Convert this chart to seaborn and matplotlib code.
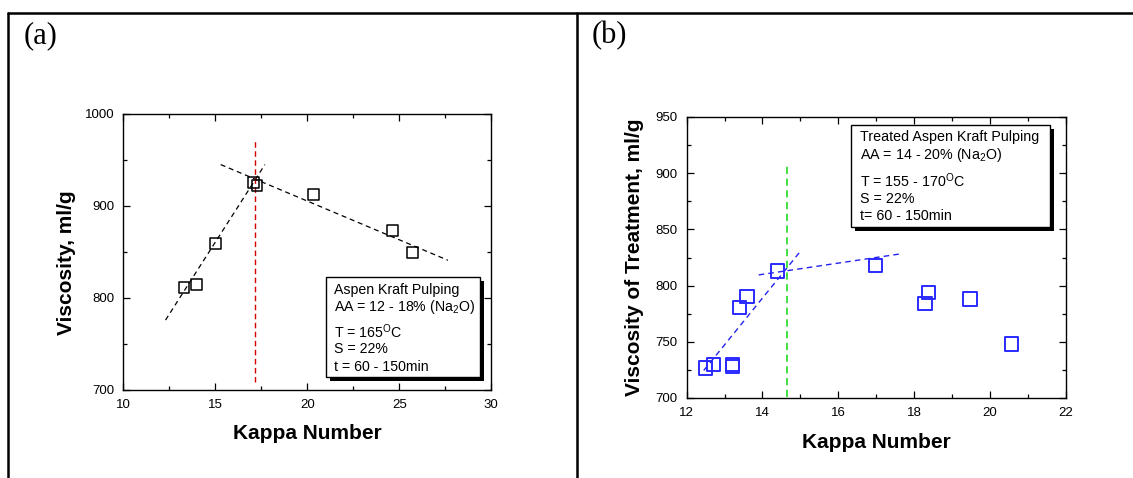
import matplotlib
matplotlib.use("Agg")
import matplotlib.pyplot as plt
import seaborn as sns
import pandas as pd
from matplotlib.patches import Rectangle
from matplotlib.lines import Line2D
from matplotlib.ticker import MultipleLocator

# ---------------- data ----------------
# panel (a): Aspen kraft pulping
kappa_a = [13.3, 14.0, 15.0, 17.07, 17.27, 20.35, 24.65, 25.72]
visc_a = [811.5, 815, 859, 925.5, 922.5, 912.5, 873, 849.5]
fit1_a_x = [12.3, 17.7]
fit1_a_y = [776, 945]
fit2_a_x = [15.3, 27.65]
fit2_a_y = [945, 841]
vline_a_x = [17.17, 17.17]
vline_a_y = [709, 972]

# panel (b): treated aspen kraft pulping
kappa_b = [12.5, 12.7, 13.2, 13.2, 13.4, 13.59, 14.39, 16.99, 18.29, 18.39, 19.48, 20.58]
visc_b = [726.7, 730, 730, 728, 780.5, 790, 813, 818, 784, 794, 788, 748]
fit1_b_x = [12.45, 14.99]
fit1_b_y = [724.5, 830]
fit2_b_x = [13.9, 17.6]
fit2_b_y = [809.5, 828]
vline_b_x = [14.66, 14.66]
vline_b_y = [701, 908]

legend_a = ["Aspen Kraft Pulping", "AA = 12 - 18% (Na$_2$O)",
            "T = 165$^\\mathrm{O}$C", "S = 22%", "t = 60 - 150min"]
legend_b = ["Treated Aspen Kraft Pulping", "AA = 14 - 20% (Na$_2$O)",
            "T = 155 - 170$^\\mathrm{O}$C", "S = 22%", "t= 60 - 150min"]

# ---------------- style ----------------
sns.set_theme(style="ticks")
plt.rcParams['font.family'] = ['Liberation Sans', 'DejaVu Sans']
plt.rcParams['mathtext.fontset'] = 'custom'
plt.rcParams['mathtext.rm'] = 'Liberation Sans'
plt.rcParams['mathtext.it'] = 'Liberation Sans:italic'
plt.rcParams['mathtext.bf'] = 'Liberation Sans:bold'
plt.rcParams['axes.linewidth'] = 1.0
plt.rcParams['text.color'] = 'black'
plt.rcParams['axes.labelcolor'] = 'black'
plt.rcParams['xtick.color'] = 'black'
plt.rcParams['ytick.color'] = 'black'
plt.rcParams['xtick.labelcolor'] = 'black'
plt.rcParams['ytick.labelcolor'] = 'black'

W, H = 1133, 478
fig = plt.figure(figsize=(W / 100, H / 100), dpi=100)
fig.patch.set_facecolor('white')

ax_a = fig.add_axes([123.2 / W, 88 / H, 368 / W, 276 / H])
ax_b = fig.add_axes([686.7 / W, 80 / H, 378.8 / W, 281 / H])

df_a = pd.DataFrame({"Kappa": kappa_a, "Visc": visc_a})
df_b = pd.DataFrame({"Kappa": kappa_b, "Visc": visc_b})


def seg(ax, xs, ys, color, lw, ls):
    sns.lineplot(x=xs, y=ys, ax=ax, color=color, lw=lw, linestyle=ls,
                 sort=False, estimator=None, errorbar=None)


# panel (a)
seg(ax_a, fit1_a_x, fit1_a_y, 'black', 0.9, (0, (4, 3)))
seg(ax_a, fit2_a_x, fit2_a_y, 'black', 0.9, (0, (4, 3)))
seg(ax_a, vline_a_x, vline_a_y, '#d40000', 1.0, (0, (4, 2.5)))
sns.scatterplot(data=df_a, x="Kappa", y="Visc", ax=ax_a, marker='s', s=60,
                facecolor='none', edgecolor='black', linewidth=1.1, zorder=5)

# panel (b)
seg(ax_b, fit1_b_x, fit1_b_y, '#2222ee', 1.0, (0, (4, 3)))
seg(ax_b, fit2_b_x, fit2_b_y, '#2222ee', 1.0, (0, (4, 3)))
seg(ax_b, vline_b_x, vline_b_y, '#33dd33', 1.3, (0, (4, 2.5)))
sns.scatterplot(data=df_b, x="Kappa", y="Visc", ax=ax_b, marker='s', s=90,
                facecolor='none', edgecolor='#2a2aff', linewidth=1.4, zorder=5)

# axes settings
ax_a.set_xlim(10, 30)
ax_a.set_ylim(700, 1000)
ax_a.xaxis.set_major_locator(MultipleLocator(5))
ax_a.xaxis.set_minor_locator(MultipleLocator(2.5))
ax_a.yaxis.set_major_locator(MultipleLocator(100))
ax_a.yaxis.set_minor_locator(MultipleLocator(50))

ax_b.set_xlim(12, 22)
ax_b.set_ylim(700, 950)
ax_b.xaxis.set_major_locator(MultipleLocator(2))
ax_b.xaxis.set_minor_locator(MultipleLocator(1))
ax_b.yaxis.set_major_locator(MultipleLocator(50))
ax_b.yaxis.set_minor_locator(MultipleLocator(25))

for ax in (ax_a, ax_b):
    for sp in ax.spines.values():
        sp.set_visible(True)
        sp.set_color('black')
        sp.set_linewidth(1.0)
    ax.tick_params(which='both', direction='in', top=True, right=True,
                   colors='black', labelcolor='black', labelsize=9.5, pad=6.5)
    ax.tick_params(which='major', length=5, width=0.9)
    ax.tick_params(which='minor', length=3, width=0.9)
    ax.set_facecolor('white')

ax_a.set_xlabel("Kappa Number", fontsize=15, fontweight='bold', color='black')
ax_a.set_ylabel("Viscosity, ml/g", fontsize=15, fontweight='bold', color='black')
ax_b.set_xlabel("Kappa Number", fontsize=15, fontweight='bold', color='black')
ax_b.set_ylabel("Viscosity of Treatment, ml/g", fontsize=15, fontweight='bold',
                color='black')
for ax, xl, yl in ((ax_a, (0.5, -0.156), (-0.154, 0.46)),
                   (ax_b, (0.5, -0.160), (-0.1375, 0.5))):
    ax.xaxis.label.set_va('center')
    ax.yaxis.label.set_va('center')
    ax.xaxis.set_label_coords(*xl)
    ax.yaxis.set_label_coords(*yl)


def info_box(ax, x0, y0, x1, y1, tx, tys, lines, fs):
    bb = ax.get_position()
    dx = 4 / (bb.width * W)
    dy = 4 / (bb.height * H)
    ax.add_patch(Rectangle((x0 + dx, y0 - dy), x1 - x0, y1 - y0,
                           transform=ax.transAxes, facecolor='black',
                           edgecolor='black', lw=0, zorder=7))
    ax.add_patch(Rectangle((x0, y0), x1 - x0, y1 - y0,
                           transform=ax.transAxes, facecolor='white',
                           edgecolor='black', lw=1.0, zorder=8))
    for t, yy in zip(lines, tys):
        ax.text(tx, yy, t, transform=ax.transAxes, fontsize=fs,
                ha='left', va='center', zorder=9, color='black')


info_box(ax_a, 0.552, 0.047, 0.970, 0.409, 0.573,
         [0.363, 0.302, 0.211, 0.149, 0.084], legend_a, 10.2)
info_box(ax_b, 0.433, 0.6075, 0.959, 0.9715, 0.457,
         [0.930, 0.865, 0.772, 0.708, 0.648], legend_b, 10.3)

# panel letters
fig.text(24 / W, 1 - 36 / H, "(a)", fontsize=22, family='Liberation Serif',
         ha='left', va='center', color='black')
fig.text(592 / W, 1 - 36 / H, "(b)", fontsize=22, family='Liberation Serif',
         ha='left', va='center', color='black')

# frame lines
ytop = 1 - 13.3 / H
fig.add_artist(Line2D([8 / W, 1.0], [ytop, ytop], transform=fig.transFigure,
                      color='black', lw=1.8))
fig.add_artist(Line2D([8 / W, 8 / W], [0, ytop], transform=fig.transFigure,
                      color='black', lw=1.8))
fig.add_artist(Line2D([576.5 / W, 576.5 / W], [0, ytop], transform=fig.transFigure,
                      color='black', lw=1.8))

fig.savefig("out.png", dpi=100, facecolor='white')
